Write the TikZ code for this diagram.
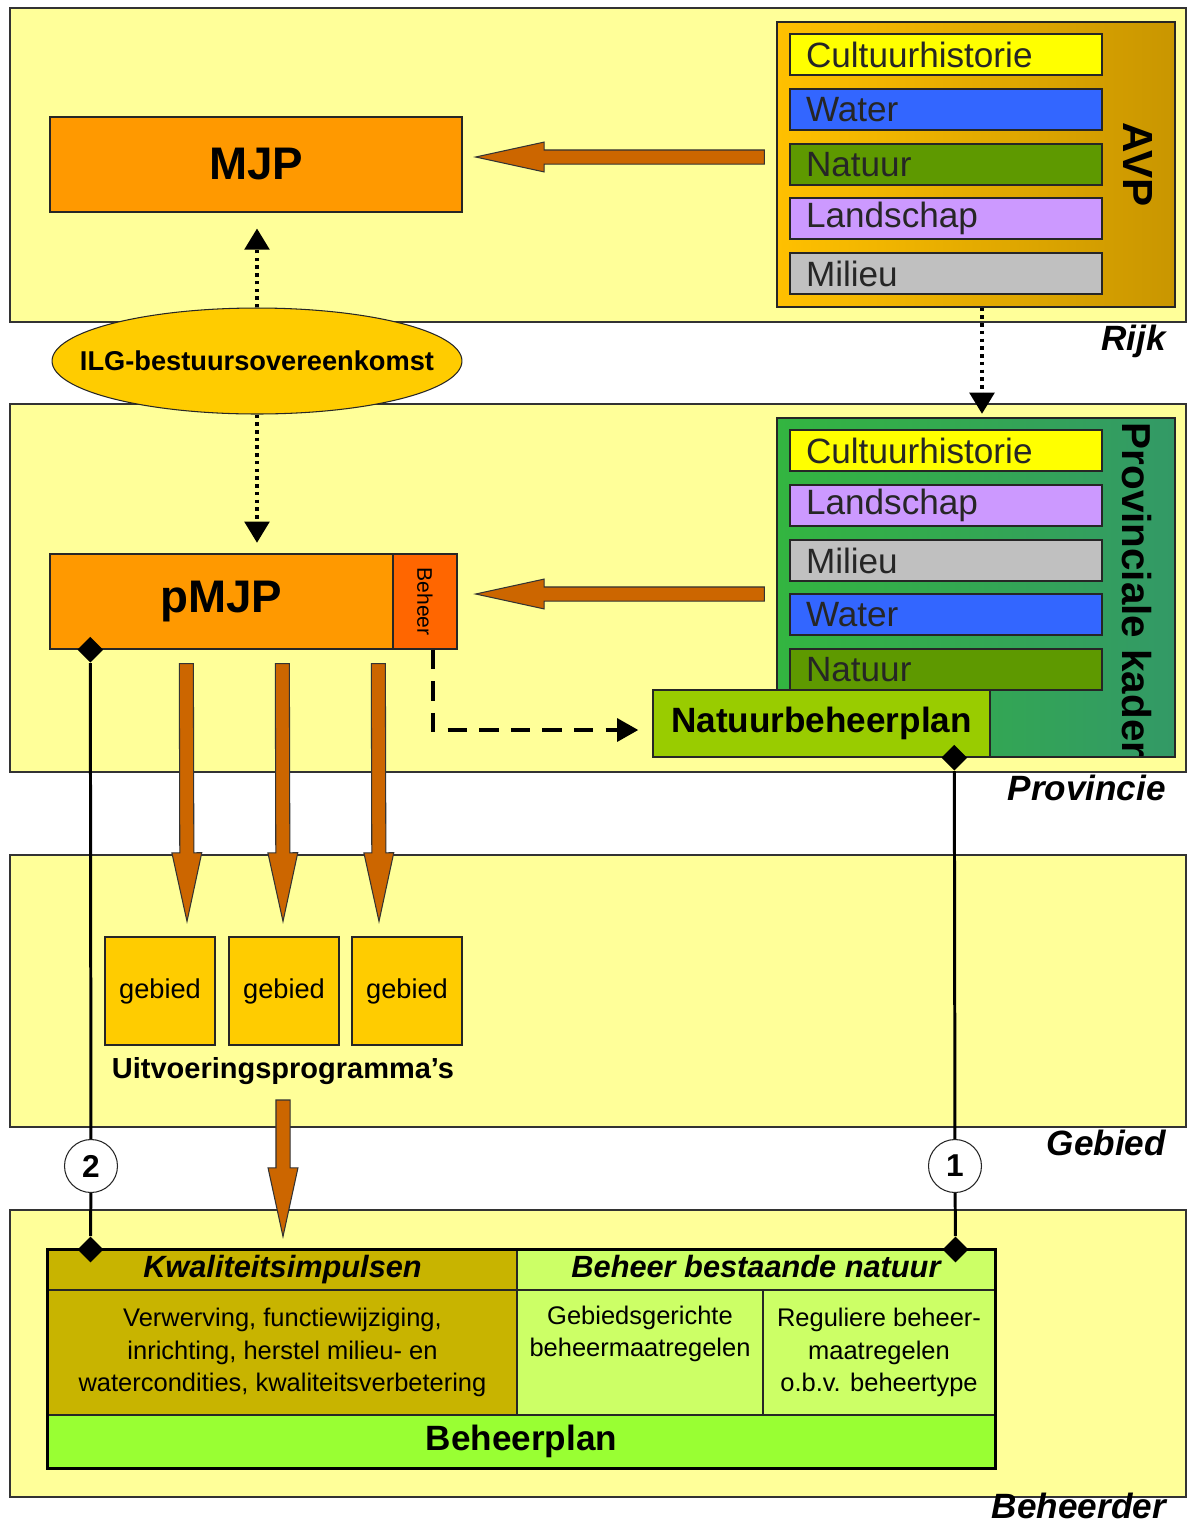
\documentclass[tikz,border=0pt]{standalone}
\usepackage{fontspec}
\setmainfont{Liberation Sans}
\usetikzlibrary{shapes,calc,arrows.meta,positioning}
\definecolor{myel}{HTML}{FFFF99}
\definecolor{morange}{HTML}{FF9900}
\definecolor{mredor}{HTML}{FF6600}
\definecolor{mbrown}{HTML}{CC6600}
\definecolor{mgold}{HTML}{FFCC00}
\definecolor{mavpl}{HTML}{FFC000}
\definecolor{mavpr}{HTML}{C99600}
\definecolor{mcult}{HTML}{FFFF00}
\definecolor{mwater}{HTML}{3366FF}
\definecolor{mnat}{HTML}{5E9900}
\definecolor{mland}{HTML}{CC99FF}
\definecolor{mmil}{HTML}{C0C0C0}
\definecolor{mprovl}{HTML}{33B540}
\definecolor{mprovr}{HTML}{339966}
\definecolor{mnbp}{HTML}{99CC00}
\definecolor{mkwal}{HTML}{C8B400}
\definecolor{mbbn}{HTML}{CCFF66}
\definecolor{mplan}{HTML}{99FF33}
\tikzstyle{l1}=[line width=0.6pt]
\tikzstyle{band}=[draw=black!80, l1, fill=myel]
\tikzstyle{box}=[draw=black!85, line width=0.8pt, inner sep=0pt]
\tikzstyle{bar}=[box, minimum width=6.24cm, minimum height=0.82cm, text width=5.6cm, align=left, inner xsep=0.32cm, font=\fontsize{20}{20}\selectfont, text=black!85]
\tikzstyle{lvl}=[anchor=base east, font=\fontsize{20}{20}\selectfont\bfseries\itshape]
\tikzstyle{fat}=[fill=mbrown, draw=black!80, l1]
\tikzstyle{dots}=[line width=2pt, dash pattern=on 2pt off 2.4pt, -{Triangle[length=12pt,width=14pt]}]
\tikzstyle{dasharrow}=[line width=2pt, dash pattern=on 11pt off 7pt, -{Triangle[length=12pt,width=13pt]}]
\tikzstyle{link}=[line width=1.7pt]
\tikzstyle{dia}=[diamond, fill=black, inner sep=0pt, minimum size=0.52cm]
\tikzstyle{num}=[circle, draw=black!85, l1, fill=white, minimum size=1.06cm, inner sep=0pt, font=\fontsize{18}{18}\selectfont\bfseries]
\tikzstyle{cell}=[box, line width=0.6pt, align=center]
\tikzstyle{hdr}=[cell, minimum height=0.8cm, text height=12.5pt, text depth=3.5pt, font=\fontsize{17.5}{17.5}\selectfont\bfseries\itshape]
\tikzstyle{body}=[cell, minimum height=2.5cm, font=\fontsize{14.5}{18.5}\selectfont]
\tikzstyle{gbox}=[box, fill=mgold, minimum width=2.2cm, minimum height=2.16cm, font=\fontsize{15.5}{15.5}\selectfont]
\newcommand{\fatarrow}[2]{%
  \coordinate (fahead) at ($(#2)!39pt!(#1)$);
  \draw[fat] ($(#1)!4pt!90:(#2)$) -- ($(fahead)!4pt!90:(#2)$) -- ($(fahead)!8.5pt!90:(#2)$) -- (#2)
    -- ($(fahead)!8.5pt!-90:(#2)$) -- ($(fahead)!4pt!-90:(#2)$) -- ($(#1)!4pt!-90:(#2)$) -- cycle;}

\begin{document}
\begin{tikzpicture}[x=0.02cm, y=-0.02cm]
    \useasboundingbox (0,0) rectangle (1188,1526);

    % levels
    \draw[band] (10,8) rectangle (1186,322);
    \draw[band] (10,404) rectangle (1186,772);
    \draw[band] (10,855) rectangle (1186,1127);
    \draw[band] (10,1210) rectangle (1186,1497);
    \node[lvl] at (1172,350) (rijk) {Rijk};
    \node[lvl] at (1172,800) (prv) {Provincie};
    \node[lvl] at (1172,1155) (geb) {Gebied};
    \node[lvl] at (1172,1518) (bhd) {Beheerder};

    % Rijk
    \node[box, fill=morange, minimum width=8.24cm, minimum height=1.9cm, font=\fontsize{26}{26}\selectfont\bfseries] at (256,164.5) (mjp) {MJP};
    \node[box, left color=mavpl, right color=mavpr, minimum width=7.96cm, minimum height=5.7cm] at (976,164.5) (avp) {};
    \node[bar, fill=mcult] at (946,54.5) (avp1) {Cultuurhistorie};
    \node[bar, fill=mwater] at (946,109.5) (avp2) {Water};
    \node[bar, fill=mnat] at (946,164.5) (avp3) {Natuur};
    \node[bar, fill=mland] at (946,218.5) (avp4) {Landschap};
    \node[bar, fill=mmil] at (946,273.5) (avp5) {Milieu};
    \node[font=\fontsize{24}{24}\selectfont\bfseries] at (1138,164.5) (avpt) {\rotatebox{-90}{AVP}};

    \node[ellipse, draw=black!85, l1, fill=mgold, minimum width=8.2cm, minimum height=2.12cm, inner sep=0pt,
          label={[font=\fontsize{15.5}{15.5}\selectfont\bfseries]center:ILG-bestuursovereenkomst}] at (257,361) (ilg) {};

    % Provincie
    \node[box, left color=mprovl, right color=mprovr, minimum width=7.96cm, minimum height=6.78cm] at (976,587.5) (prov) {};
    \node[bar, fill=mcult] at (946,450.5) (prov1) {Cultuurhistorie};
    \node[bar, fill=mland] at (946,505.5) (prov2) {Landschap};
    \node[bar, fill=mmil] at (946,560.5) (prov3) {Milieu};
    \node[bar, fill=mwater] at (946,614.5) (prov4) {Water};
    \node[bar, fill=mnat] at (946,669.5) (prov5) {Natuur};
    \node[box, fill=mnbp, minimum width=6.74cm, minimum height=1.34cm, font=\fontsize{20}{20}\selectfont\bfseries] at (821.5,723.5) (nbp) {Natuurbeheerplan};
    \node[font=\fontsize{23}{23}\selectfont\bfseries] at (1137,590) (provt) {\rotatebox{-90}{Provinciale kader}};

    \node[box, fill=morange, minimum width=6.86cm, minimum height=1.9cm, font=\fontsize{26}{26}\selectfont\bfseries] at (221.5,601.5) (pmjp) {pMJP};
    \node[box, fill=mredor, minimum width=1.28cm, minimum height=1.9cm, font=\fontsize{12}{12}\selectfont] at (425,601.5) (beheer) {\rotatebox{-90}{Beheer}};

    % Gebied
    \node[gbox] at (160,991) (g1) {gebied};
    \node[gbox] at (284,991) (g2) {gebied};
    \node[gbox] at (407,991) (g3) {gebied};
    \node[font=\fontsize{16.5}{16.5}\selectfont\bfseries] at (283,1071) (uitv) {Uitvoeringsprogramma’s};

    % Beheerder
    \node[hdr, fill=mkwal, minimum width=9.38cm] at (282.5,1270) (kwh) {Kwaliteitsimpulsen};
    \node[hdr, fill=mbbn, minimum width=9.56cm] at (756,1270) (bbh) {Beheer bestaande natuur};
    \node[body, fill=mkwal, minimum width=9.38cm] at (282.5,1352.5) (kwb) {Verwerving, functiewijziging,\\inrichting, herstel milieu- en\\watercondities, kwaliteitsverbetering};
    \node[body, fill=mbbn, minimum width=4.92cm] at (640,1352.5) (gbb) {Gebiedsgerichte\\beheermaatregelen\\\strut};
    \node[body, fill=mbbn, minimum width=4.64cm] at (879,1352.5) (rgb) {Reguliere beheer-\\maatregelen\\o.b.v. beheertype};
    \node[cell, fill=mplan, minimum width=18.94cm, minimum height=1.06cm, font=\fontsize{20}{20}\selectfont\bfseries] at (521.5,1441.5) (bplan) {Beheerplan};
    \draw[line width=1.8pt] (kwh.north west) rectangle (bplan.south east);

    % arrows
    \draw[dots, shorten >=9pt] (ilg.north) -- (ilg.north |- mjp.south);
    \draw[dots, shorten >=6pt] (ilg.south) -- (ilg.south |- pmjp.north);
    \draw[dots, shorten >=2pt] ($(avp.south)+(6,0)$) -- ($(prov.north)+(6,0)$);
    \draw[dasharrow, shorten >=8pt] ($(beheer.south)+(8,0)$) |- ($(nbp.west)+(0,6.5)$);

    \coordinate (a0s) at ($(avp.west)+(-12,-7.5)$);
    \coordinate (a0e) at ($(mjp.east)+(13,-7.5)$);
    \coordinate (a1s) at ($(prov.west)+(-12,6.5)$);
    \coordinate (a1e) at ($(beheer.east)+(18,-7.5)$);
    \coordinate (b1s) at ($(pmjp.south west)+(137,14)$);
    \coordinate (b2s) at ($(pmjp.south west)+(233,14)$);
    \coordinate (b3s) at ($(pmjp.south west)+(329,14)$);
    \coordinate (b1e) at ($(g1.north)+(27,-15)$);
    \coordinate (b2e) at ($(g2.north)+(-1,-15)$);
    \coordinate (b3e) at ($(g3.north)+(-28,-15)$);
    \coordinate (u1s) at ($(uitv.center)+(0,29)$);
    \coordinate (u1e) at ($(kwh.north)+(0.5,-13)$);
    \fatarrow{a0s}{a0e}
    \fatarrow{a1s}{a1e}
    \fatarrow{b1s}{b1e}
    \fatarrow{b2s}{b2e}
    \fatarrow{b3s}{b3e}
    \fatarrow{u1s}{u1e}

    % links
    \node[dia] at ($(pmjp.south west)+(41,0)$) (d2a) {};
    \node[dia] at ($(kwh.north west)+(43,0)$) (d2b) {};
    \node[dia] at ($(nbp.south west)+(302,0)$) (d1a) {};
    \node[dia] at ($(bbh.north east)+(-40,0)$) (d1b) {};
    \node[num] at (91,1166) (c2) {2};
    \node[num] at (955,1166) (c1) {1};
    \draw[link] (d2a) -- (c2) -- (d2b);
    \draw[link] (d1a) -- (c1) -- (d1b);
\end{tikzpicture}
\end{document}
